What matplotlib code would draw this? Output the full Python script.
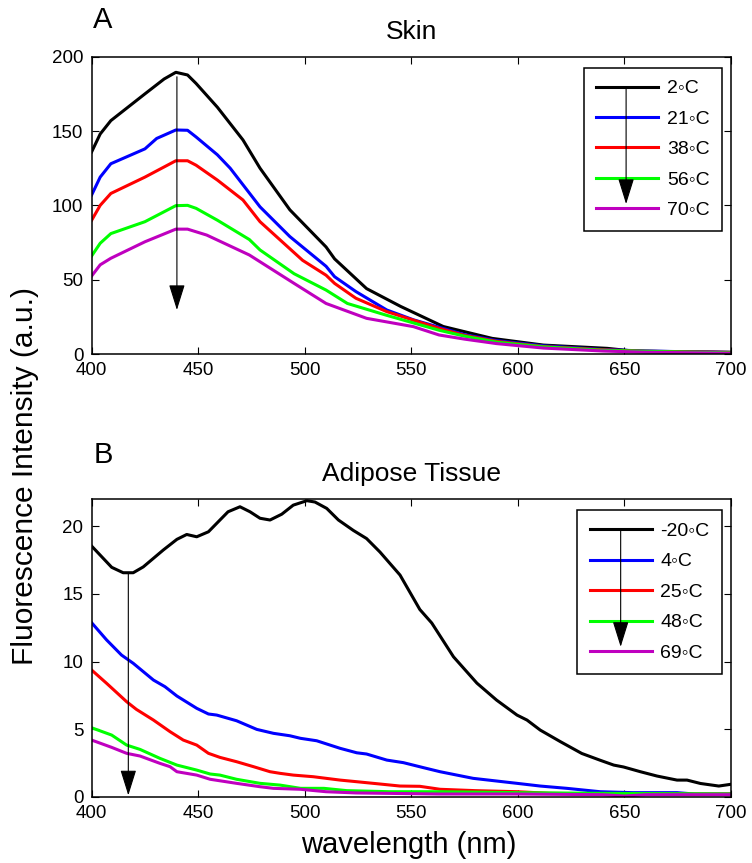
import matplotlib
matplotlib.use('Agg')
from matplotlib import pyplot as plt

plt.rcParams['font.family'] = ['Liberation Sans', 'DejaVu Sans']

# ---- panel A: skin ----
skin_labels = ['2\u25e6C', '21\u25e6C', '38\u25e6C', '56\u25e6C', '70\u25e6C']

skin_wl_2 = [400, 404, 409, 417, 425, 434, 439.5, 445, 449, 459, 471, 479, 493, 510, 514,
             529, 545, 565, 575, 588, 612, 642, 654, 680, 700]
skin_2 = [136, 148, 157, 166, 175, 185, 189.5, 187.7, 182, 166, 144, 125, 97, 72, 64,
          44, 32, 18.5, 15, 10.5, 6, 3.8, 2, 1.5, 1.2]

skin_wl_21 = [400, 404, 409, 425, 430.5, 439.5, 445, 449, 459, 465, 479, 493, 510, 514, 524,
              538.5, 551, 563, 575, 590, 612, 640, 660, 700]
skin_21 = [107, 119, 128, 138, 145, 150.7, 150.5, 146, 134, 125, 99, 79, 59, 52, 42,
           29.6, 23, 18, 13, 9, 5.5, 3, 2, 1]

skin_wl_38 = [400, 404, 409, 425, 439.5, 445, 449, 459, 471, 479, 499, 510, 514, 524, 538.5,
              563, 575, 590, 612, 640, 660, 700]
skin_38 = [90, 100, 108, 119, 130, 130, 127, 117, 103.6, 89, 63, 53, 47.5, 37.5, 28.5,
           17.3, 12.5, 8.5, 5, 2.8, 1.8, 1]

skin_wl_56 = [400, 404, 409, 425, 439.5, 445, 449, 459, 474, 479, 495, 510, 520, 538.5,
              563, 575, 590, 612, 640, 660, 700]
skin_56 = [66, 74.5, 81, 89, 99.8, 100, 98, 90, 77, 70, 54, 43, 34, 26,
           16, 12, 8, 4.8, 2.5, 1.8, 0.8]

skin_wl_70 = [400, 404, 409, 425, 439.5, 445, 454, 474, 495, 510, 529, 551, 563, 575, 590,
              612, 640, 660, 700]
skin_70 = [52.5, 60, 64.4, 75.5, 84, 84, 80, 66.6, 47.5, 34, 24, 18.4, 12.8, 10, 7,
           4, 2, 1.2, 0.5]

# ---- panel B: adipose tissue ----
fat_labels = ['-20\u25e6C', '4\u25e6C', '25\u25e6C', '48\u25e6C', '69\u25e6C']

fat_wl_m20 = [400, 409.4, 414.8, 419.5, 424.2, 433.6, 440, 444.6, 449.3, 454.8, 464, 469.6,
              474.3, 479, 483.7, 489.2, 494.6, 501, 504.8, 510.3, 515.8, 522.8, 529, 535.3,
              544.7, 554, 559.6, 569.8, 580.8, 590, 599.6, 604.3, 610.5, 620, 630, 638.6,
              645, 649.6, 657.5, 665.3, 674.7, 679.4, 685.7, 694.3, 700]
fat_m20 = [18.54, 16.97, 16.57, 16.57, 17.0, 18.25, 19.04, 19.4, 19.23, 19.6, 21.08, 21.45,
           21.08, 20.6, 20.47, 20.9, 21.57, 21.9, 21.8, 21.33, 20.47, 19.7, 19.1, 18.1,
           16.4, 13.85, 12.85, 10.35, 8.4, 7.15, 6.04, 5.67, 4.93, 4.07, 3.2, 2.7,
           2.34, 2.2, 1.85, 1.53, 1.23, 1.23, 0.98, 0.79, 0.92]

fat_wl_4 = [400, 407, 414, 419.5, 429, 434.4, 440, 449.3, 454.8, 458.7, 468, 477.5, 485.3,
            493, 498, 505.6, 516.6, 524.4, 529, 538.5, 546.3, 555.7, 563.5, 579, 599.6,
            610.5, 623, 638.6, 654, 674.7, 683, 700]
fat_4 = [12.87, 11.6, 10.48, 9.87, 8.63, 8.14, 7.45, 6.54, 6.12, 6.04, 5.62, 4.98, 4.69,
         4.51, 4.32, 4.14, 3.58, 3.25, 3.16, 2.71, 2.52, 2.15, 1.85, 1.36, 0.99,
         0.79, 0.62, 0.37, 0.3, 0.3, 0.2, 0.2]

fat_wl_25 = [400, 407, 416.4, 421, 429, 436.8, 443, 449.3, 454.8, 460.2, 468, 476, 483.7,
             488.4, 494.6, 504, 516.6, 524.4, 535.3, 544.7, 554, 563.5, 580, 600, 615,
             640, 700]
fat_25 = [9.37, 8.39, 7.03, 6.46, 5.67, 4.81, 4.19, 3.82, 3.21, 2.91, 2.59, 2.22, 1.85,
          1.73, 1.6, 1.48, 1.23, 1.11, 0.94, 0.79, 0.77, 0.55, 0.45, 0.37, 0.25,
          0.2, 0.2]

fat_wl_48 = [400, 409.4, 416.4, 422.7, 432, 440, 449.3, 455.6, 460.2, 468, 479, 488.4, 498,
             509, 519.7, 540, 563, 600, 640, 700]
fat_48 = [5.1, 4.56, 3.82, 3.5, 2.84, 2.34, 1.97, 1.68, 1.6, 1.29, 0.99, 0.86, 0.62,
          0.62, 0.45, 0.37, 0.37, 0.3, 0.25, 0.2]

fat_wl_69 = [400, 409.4, 416.4, 422.7, 432, 436.8, 440, 449.3, 455.6, 468, 479, 485.3, 498,
             510, 524, 563, 600, 640, 650, 660, 700]
fat_69 = [4.19, 3.65, 3.21, 3.01, 2.47, 2.22, 1.85, 1.6, 1.29, 0.99, 0.74, 0.62, 0.55,
          0.37, 0.28, 0.2, 0.2, 0.15, 0.05, 0.15, 0.15]

colors = ['k', '#0000ff', '#ff0000', '#00ff00', '#bf00bf']

fig = plt.figure(figsize=(7.52, 8.63), dpi=100)
ax1 = fig.add_axes([0.1219, 0.5898, 0.8501, 0.3445])
ax2 = fig.add_axes([0.1219, 0.0768, 0.8501, 0.3446])

skin = [(skin_wl_2, skin_2), (skin_wl_21, skin_21), (skin_wl_38, skin_38),
        (skin_wl_56, skin_56), (skin_wl_70, skin_70)]
fat = [(fat_wl_m20, fat_m20), (fat_wl_4, fat_4), (fat_wl_25, fat_25),
       (fat_wl_48, fat_48), (fat_wl_69, fat_69)]

for (x, y), c, lab in zip(skin, colors, skin_labels):
    ax1.plot(x, y, color=c, lw=2.2, label=lab)
for (x, y), c, lab in zip(fat, colors, fat_labels):
    ax2.plot(x, y, color=c, lw=2.2, label=lab)

ax1.set_ylim(0, 200)
ax1.set_yticks([0, 50, 100, 150, 200])
ax2.set_ylim(0, 22)
ax2.set_yticks([0, 5, 10, 15, 20])

for ax in (ax1, ax2):
    ax.set_xlim(400, 700)
    ax.set_xticks([400, 450, 500, 550, 600, 650, 700])
    ax.tick_params(direction='in', top=True, right=True, length=5, width=0.8,
                   labelsize=13.5, pad=6)
    for s in ax.spines.values():
        s.set_linewidth(1.1)
    leg = ax.legend(loc='upper right', bbox_to_anchor=(0.9855, 0.963), borderaxespad=0,
                    fontsize=14, handlelength=3.2, labelspacing=0.66, fancybox=False,
                    framealpha=1, edgecolor='k', borderpad=0.62, handletextpad=0.45)
    leg.get_frame().set_linewidth(1.1)

ax1.set_title('Skin', fontsize=19, pad=13)
ax2.set_title('Adipose Tissue', fontsize=19, pad=13)

# arrows showing the temperature trend
arrow = dict(arrowstyle='-|>,head_length=1.6,head_width=0.5', color='k', lw=0.8,
             shrinkA=0, shrinkB=0)
ax1.annotate('', xy=(440, 29.6), xytext=(440, 186.5), arrowprops=arrow)
ax2.annotate('', xy=(417.2, 0.1), xytext=(417.2, 16.5), arrowprops=arrow)
ax1.annotate('', xy=(0.836, 0.5045), xytext=(0.836, 0.899), xycoords='axes fraction',
             arrowprops=arrow, zorder=6)
ax2.annotate('', xy=(0.8275, 0.504), xytext=(0.8275, 0.899), xycoords='axes fraction',
             arrowprops=arrow, zorder=6)

fig.text(92.7 / 752, 1 - 28.3 / 863, 'A', fontsize=21, va='baseline')
fig.text(94 / 752, 1 - 463.3 / 863, 'B', fontsize=21, va='baseline')
fig.text(25 / 752, 1 - 476 / 863, 'Fluorescence Intensity (a.u.)', fontsize=21.5,
         rotation=90, ha='center', va='center')
fig.text(409 / 752, 1 - 853 / 863, 'wavelength (nm)', fontsize=21, ha='center',
         va='baseline')

plt.savefig('out.png', dpi=100)
